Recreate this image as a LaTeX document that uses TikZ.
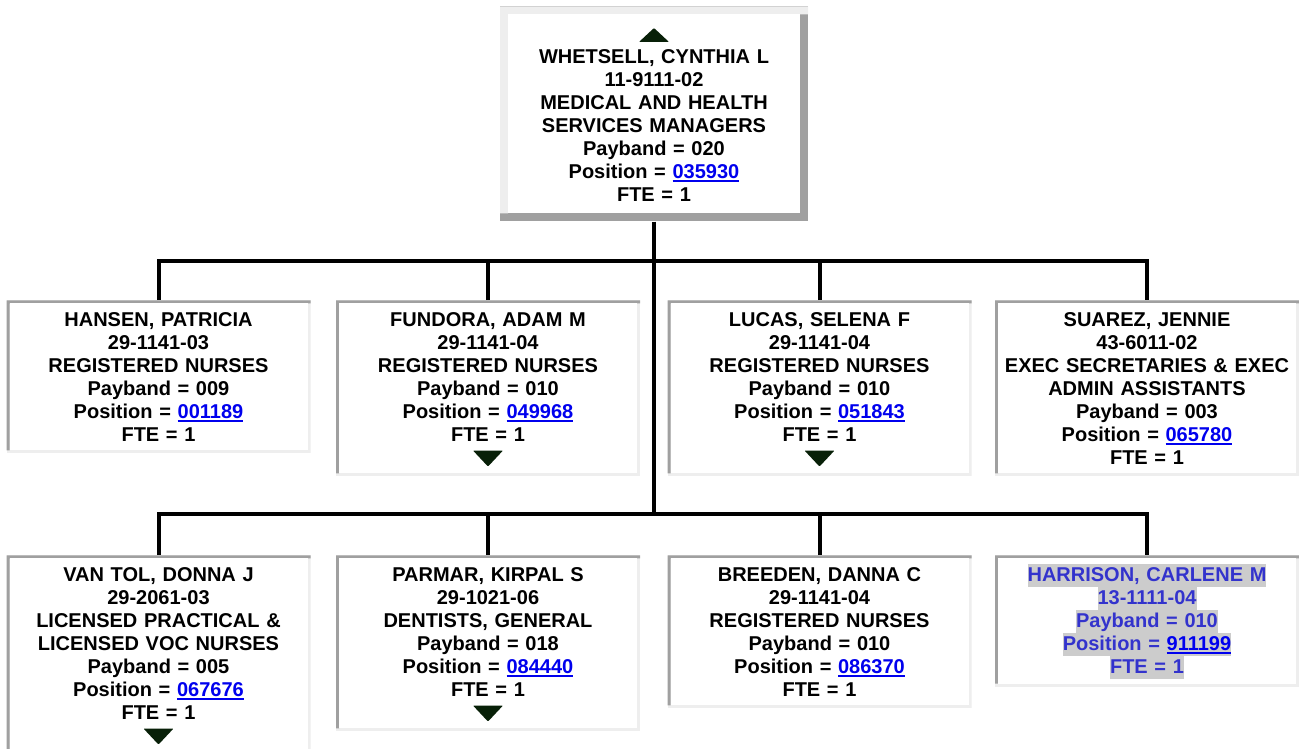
\documentclass[tikz,border=0pt]{standalone}
\usepackage{fontspec}
\setmainfont{Liberation Sans}
\definecolor{edgedark}{RGB}{160,160,160}
\definecolor{edgelight}{RGB}{238,238,238}
\definecolor{linkblue}{RGB}{0,0,238}
\definecolor{selblue}{RGB}{51,51,204}
\definecolor{selgray}{RGB}{204,204,204}
\definecolor{tridark}{RGB}{8,32,8}
\newcommand\topstrut{\rule{0pt}{13.9pt}}
\newcommand\botstrut{\rule[-3.4pt]{0pt}{3.4pt}}
\newcommand\poslink[1]{{\color{linkblue}\setbox0\hbox{#1}\rlap{\rule[-2.9pt]{\wd0}{1.6pt}}\box0}}
\newcommand\selline[1]{{\setlength\fboxsep{0pt}\colorbox{selgray}{\rule[-4.35pt]{0pt}{17.25pt}#1}}}
\newcommand\ppb{path picture bounding box}
\tikzset{
  conn/.style={line width=3pt},
  orgfont/.style={font=\fontsize{15pt}{17.25pt}\selectfont\bfseries},
  edged/.style n args={3}{fill=white, path picture={
      \fill[#2] (\ppb.south west) rectangle (\ppb.north east);
      \fill[#1] (\ppb.north west) -- (\ppb.north east) -- ([yshift=-#3]\ppb.north east)
        -- ([xshift=#3,yshift=-#3]\ppb.north west) -- ([xshift=#3,yshift=#3]\ppb.south west)
        -- ([yshift=#3]\ppb.south west) -- cycle;
      \fill[white] ([xshift=#3,yshift=-#3]\ppb.north west) rectangle ([xshift=-#3,yshift=#3]\ppb.south east);}},
  staff/.style={orgfont, anchor=north, align=center, text width=223.5pt,
    inner xsep=2.25pt, inner ysep=5.6pt, edged={edgedark}{edgelight}{2.25pt}},
  boss/.style={orgfont, anchor=north, align=center, text width=219pt,
    inner xsep=6pt, inner ysep=11.6pt, edged={edgelight}{edgedark}{6pt}},
  picked/.style={staff, text=selblue},
  tri/.style={fill=tridark, rounded corners=0.6pt}
}
\begin{document}
\begin{tikzpicture}[x=0.75pt,y=-0.75pt]
\useasboundingbox (0,0) rectangle (1299,749);
\clip (0,0) rectangle (1299,749);
\coordinate (busA) at (654,261);
\coordinate (busB) at (654,514);

\node[boss] (whetsell) at (654,6) {\topstrut\\ WHETSELL, CYNTHIA L\\ 11-9111-02\\ MEDICAL AND HEALTH\\ SERVICES MANAGERS\\ Payband = 020\\ Position = \poslink{035930}\\ FTE = 1\botstrut};

\node[staff] (hansen) at (158.5,300) {\topstrut HANSEN, PATRICIA\\ 29-1141-03\\ REGISTERED NURSES\\ Payband = 009\\ Position = \poslink{001189}\\ FTE = 1\botstrut};
\node[staff] (fundora) at (488,300) {\topstrut FUNDORA, ADAM M\\ 29-1141-04\\ REGISTERED NURSES\\ Payband = 010\\ Position = \poslink{049968}\\ FTE = 1\\ \botstrut};
\node[staff] (lucas) at (819.5,300) {\topstrut LUCAS, SELENA F\\ 29-1141-04\\ REGISTERED NURSES\\ Payband = 010\\ Position = \poslink{051843}\\ FTE = 1\\ \botstrut};
\node[staff] (suarez) at (1147,300) {\topstrut SUAREZ, JENNIE\\ 43-6011-02\\ EXEC SECRETARIES \& EXEC\\ ADMIN ASSISTANTS\\ Payband = 003\\ Position = \poslink{065780}\\ FTE = 1\botstrut};

\node[staff] (vantol) at (158.5,555) {\topstrut VAN TOL, DONNA J\\ 29-2061-03\\ LICENSED PRACTICAL \&\\ LICENSED VOC NURSES\\ Payband = 005\\ Position = \poslink{067676}\\ FTE = 1\\ \botstrut};
\node[staff] (parmar) at (488,555) {\topstrut PARMAR, KIRPAL S\\ 29-1021-06\\ DENTISTS, GENERAL\\ Payband = 018\\ Position = \poslink{084440}\\ FTE = 1\\ \botstrut};
\node[staff] (breeden) at (819.5,555) {\topstrut BREEDEN, DANNA C\\ 29-1141-04\\ REGISTERED NURSES\\ Payband = 010\\ Position = \poslink{086370}\\ FTE = 1\botstrut};
\node[picked] (harrison) at (1147,555) {\topstrut\selline{HARRISON, CARLENE M}\\ \selline{13-1111-04}\\ \selline{Payband = 010}\\ \selline{Position = \poslink{911199}}\\ \selline{FTE = 1}\botstrut};

\draw[conn] (whetsell.south) -- (busB);
\draw[conn] (hansen.north) |- (busA) -| (suarez.north);
\draw[conn] (fundora.north) -- (fundora.north |- busA);
\draw[conn] (lucas.north) -- (lucas.north |- busA);
\draw[conn] (vantol.north) |- (busB) -| (harrison.north);
\draw[conn] (parmar.north) -- (parmar.north |- busB);
\draw[conn] (breeden.north) -- (breeden.north |- busB);

\fill[tri] ([yshift=-16.5pt]whetsell.north) -- ([xshift=11.25pt,yshift=-27pt]whetsell.north) -- ([xshift=-11.25pt,yshift=-27pt]whetsell.north) -- cycle;
\fill[tri] ([xshift=-11.25pt,yshift=19.5pt]fundora.south) -- ([xshift=11.25pt,yshift=19.5pt]fundora.south) -- ([yshift=7.5pt]fundora.south) -- cycle;
\fill[tri] ([xshift=-11.25pt,yshift=19.5pt]lucas.south) -- ([xshift=11.25pt,yshift=19.5pt]lucas.south) -- ([yshift=7.5pt]lucas.south) -- cycle;
\fill[tri] ([xshift=-11.25pt,yshift=19.5pt]vantol.south) -- ([xshift=11.25pt,yshift=19.5pt]vantol.south) -- ([yshift=7.5pt]vantol.south) -- cycle;
\fill[tri] ([xshift=-11.25pt,yshift=19.5pt]parmar.south) -- ([xshift=11.25pt,yshift=19.5pt]parmar.south) -- ([yshift=7.5pt]parmar.south) -- cycle;
\end{tikzpicture}
\end{document}
